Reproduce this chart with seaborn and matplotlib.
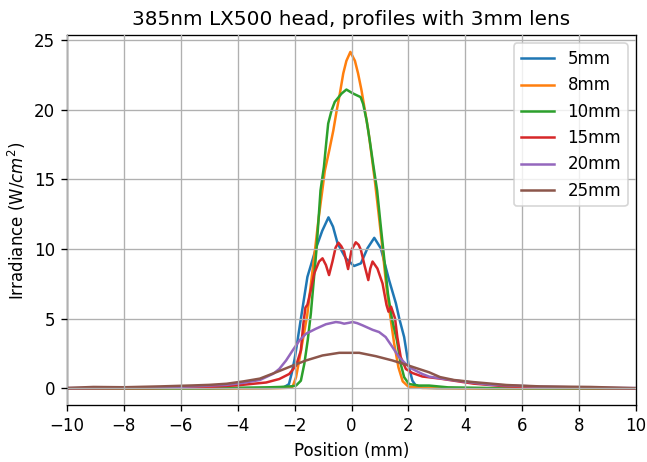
import numpy as np
import pandas as pd
import matplotlib
matplotlib.use("Agg")
import matplotlib.pyplot as plt
import seaborn as sns

labels = ["5mm", "8mm", "10mm", "15mm", "20mm", "25mm"]

x_5mm = [-10, -6, -3, -2.4, -2.2, -2.1, -2.0, -1.9, -1.78, -1.55, -1.25, -1.03, -0.81, -0.65,
         -0.49, -0.2, 0.09, 0.33, 0.56, 0.80, 1.03, 1.32, 1.56, 1.68, 1.85, 2.02, 2.14, 2.26,
         2.5, 3, 6, 10]
y_5mm = [0.0, 0.0, 0.02, 0.05, 0.3, 1.1, 2.1, 3.4, 5.0, 8.0, 10.05, 11.3, 12.27, 11.6,
         10.4, 9.33, 8.78, 8.97, 10.05, 10.8, 10.05, 7.77, 6.1, 5.0, 3.68, 1.5, 0.55, 0.2,
         0.05, 0.02, 0.0, 0.0]

x_8mm = [-10, -4, -2.5, -2.15, -2.07, -1.95, -1.84, -1.7, -1.56, -1.42, -1.28, -1.15, -1.02,
         -0.94, -0.78, -0.64, -0.53, -0.41, -0.29, -0.18, -0.04, 0.12, 0.23, 0.35, 0.47,
         0.59, 0.70, 0.82, 0.96, 1.09, 1.23, 1.36, 1.5, 1.65, 1.8, 2.0, 2.5, 4, 10]
y_8mm = [0, 0, 0.02, 0.05, 0.12, 0.8, 2.0, 3.6, 5.2, 7.6, 10.0, 12.3, 14.3,
         15.6, 17.1, 18.5, 19.83, 21.15, 22.6, 23.5, 24.14, 23.5, 22.6, 21.4, 19.95,
         18.5, 16.8, 14.9, 12.4, 10.0, 7.2, 5.2, 3.2, 1.5, 0.5, 0.12, 0.03, 0, 0]

x_10mm = [-10, -5, -3, -2.5, -2.1, -1.95, -1.78, -1.66, -1.54, -1.43, -1.23, -1.09, -0.97,
          -0.88, -0.82, -0.7, -0.59, -0.35, -0.18, 0.06, 0.32, 0.41, 0.53, 0.64, 0.76, 0.9,
          1.02, 1.15, 1.28, 1.42, 1.6, 1.73, 1.85, 2.02, 2.37, 2.73, 3.4, 5, 10]
y_10mm = [0, 0.01, 0.07, 0.1, 0.15, 0.2, 0.55, 1.75, 3.44, 5.36, 10.0, 14.2, 15.9,
          17.8, 19.0, 19.95, 20.55, 21.15, 21.44, 21.15, 20.9, 20.4, 19.23, 17.8, 16.1, 14.2,
          11.8, 9.3, 6.8, 5.0, 3.4, 1.75, 0.8, 0.31, 0.2, 0.2, 0.07, 0.02, 0]

x_15mm = [-10, -7, -5, -4, -3, -2.54, -2.19, -1.95, -1.78, -1.7, -1.62, -1.55, -1.43, -1.31,
          -1.14, -1.02, -0.9, -0.79, -0.67, -0.56, -0.46, -0.36, -0.26, -0.12, 0.0, 0.15,
          0.25, 0.33, 0.46, 0.59, 0.66, 0.74, 0.91, 1.09, 1.23, 1.3, 1.39, 1.53, 1.61, 1.73,
          1.91, 2.14, 2.49, 3.11, 4.28, 5.45, 6.6, 10]
y_15mm = [0.0, 0.02, 0.1, 0.22, 0.42, 0.67, 1.03, 1.63, 2.72, 4.5, 5.8, 6.0, 7.05, 8.25,
          9.1, 9.33, 8.85, 8.13, 9.1, 10.1, 10.45, 10.2, 9.81, 8.56, 9.93, 10.48,
          10.3, 9.93, 8.8, 7.77, 8.6, 9.1, 8.6, 7.53, 5.98, 5.5, 5.86, 5.02, 3.68, 2.24,
          1.39, 1.1, 0.85, 0.7, 0.34, 0.14, 0.05, 0.0]

x_20mm = [-10, -8, -6.5, -5.5, -4.39, -3.8, -3.22, -2.75, -2.54, -2.3, -2.07, -1.83, -1.6,
          -1.25, -0.9, -0.55, -0.4, -0.26, -0.1, 0.04, 0.2, 0.39, 0.74, 0.97, 1.2, 1.44,
          1.67, 1.91, 2.14, 2.49, 2.73, 3.1, 3.7, 4.87, 6.63, 8.97, 10]
y_20mm = [0.02, 0.04, 0.08, 0.15, 0.25, 0.4, 0.6, 1.05, 1.39, 2.0, 2.72, 3.44, 3.92,
          4.28, 4.6, 4.76, 4.72, 4.64, 4.7, 4.76, 4.68, 4.52, 4.2, 4.04, 3.68, 2.96,
          2.24, 1.75, 1.39, 1.03, 0.84, 0.72, 0.55, 0.26, 0.12, 0.03, 0.02]

x_25mm = [-10, -9.07, -8, -6.73, -5.56, -5, -4.39, -3.8, -3.22, -2.63, -2.07, -1.6, -1.02,
          -0.43, 0.27, 0.85, 1.44, 1.91, 2.37, 2.73, 3.11, 3.6, 4.28, 5.45, 6.63, 8.4, 9.9, 10]
y_25mm = [0.03, 0.1, 0.08, 0.14, 0.21, 0.25, 0.33, 0.5, 0.7, 1.17, 1.63, 2.0, 2.36,
          2.55, 2.55, 2.31, 2.0, 1.7, 1.39, 1.15, 0.81, 0.6, 0.45, 0.24, 0.14, 0.1, 0.02, 0.02]

series_x = [x_5mm, x_8mm, x_10mm, x_15mm, x_20mm, x_25mm]
series_y = [y_5mm, y_8mm, y_10mm, y_15mm, y_20mm, y_25mm]

frames = [pd.DataFrame({"pos": xs, "irr": ys, "dist": lab})
          for xs, ys, lab in zip(series_x, series_y, labels)]
df = pd.concat(frames, ignore_index=True)

plt.rcParams["font.family"] = ["DejaVu Sans"]
DPI = 120
fig, ax = plt.subplots(figsize=(647 / DPI, 462 / DPI), dpi=DPI)
fig.subplots_adjust(left=0.1036, right=0.983, top=0.924, bottom=0.123)

palette = sns.color_palette("tab10", 6)
for i, lab in enumerate(labels):
    sub = df[df["dist"] == lab]
    sns.lineplot(data=sub, x="pos", y="irr", ax=ax, color=palette[i], label=lab,
                 linewidth=1.5, sort=False, estimator=None)

ax.set_xlim(-10, 10)
ax.set_xticks(np.arange(-10, 11, 2))
ax.set_yticks(np.arange(0, 26, 5))
ax.grid(True, color="#b0b0b0", linewidth=0.8)
ax.set_axisbelow(False)
ax.set_title("385nm LX500 head, profiles with 3mm lens", fontsize=12)
ax.set_xlabel("Position (mm)", fontsize=10)
ax.set_ylabel(r"Irradiance (W/$cm^2$)", fontsize=10)
ax.legend(loc="upper right", fontsize=10)

fig.savefig("out.png", dpi=DPI)
